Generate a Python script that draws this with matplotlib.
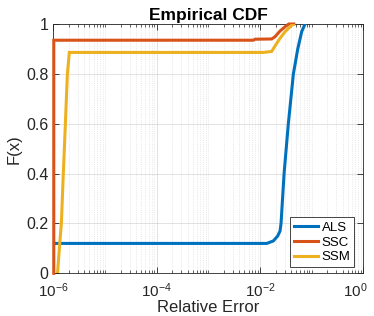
import numpy as np
import matplotlib
matplotlib.use("Agg")
import matplotlib.pyplot as plt
import matplotlib.transforms as mtransforms
from matplotlib.ticker import LogLocator, FormatStrFormatter, NullFormatter

plt.rcParams["font.family"] = ["Liberation Sans", "DejaVu Sans"]

# empirical CDF curves (x = relative error, y = F(x))
als_x = [1e-6, 0.0135, 0.0181, 0.0220, 0.0244, 0.0255, 0.0292, 0.0353, 0.0442, 0.0537, 0.0641, 0.0743]
als_y = [0.12, 0.12, 0.13, 0.15, 0.17, 0.20, 0.40, 0.60, 0.80, 0.90, 0.97, 1.00]

ssc_x = [1.02e-6, 1.02e-6, 0.0074, 0.0080, 0.0168, 0.0195, 0.0244, 0.0305, 0.0360, 0.0450]
ssc_y = [0.0, 0.935, 0.935, 0.939, 0.940, 0.949, 0.972, 0.989, 1.0, 1.0]

ssm_x = [1.206e-6, 1.33e-6, 1.43e-6, 1.56e-6, 1.71e-6, 1.87e-6, 2.04e-6, 0.0115, 0.0168, 0.0195, 0.0244, 0.0305, 0.0381, 0.0442]
ssm_y = [0.0, 0.12, 0.20, 0.40, 0.60, 0.80, 0.886, 0.886, 0.890, 0.912, 0.943, 0.969, 0.989, 1.0]

series = [("ALS", als_x, als_y, "#0072BD"),
          ("SSC", ssc_x, ssc_y, "#D95319"),
          ("SSM", ssm_x, ssm_y, "#EDB120")]

fig = plt.figure(figsize=(3.74, 3.16), dpi=100)
ax = fig.add_axes([0.1426, 0.135, 0.829, 0.789])

for name, x, y, c in series:
    ax.plot(x, y, color=c, lw=2.2, label=name, solid_joinstyle="miter",
            clip_on=(name != "SSC"), zorder=3)

ax.set_xscale("log")
ax.set_xlim(1e-6, 1)
ax.set_ylim(0, 1)
ax.set_xticks([1e-6, 1e-4, 1e-2, 1])
ax.xaxis.set_minor_locator(LogLocator(base=10, subs=np.arange(1, 10), numticks=20))
ax.xaxis.set_minor_formatter(NullFormatter())
ax.set_yticks([0, 0.2, 0.4, 0.6, 0.8, 1])
ax.yaxis.set_major_formatter(FormatStrFormatter("%g"))

ax.grid(True, which="major", color="#262626", alpha=0.15, lw=0.6)
ax.grid(True, which="minor", axis="x", color="#262626", alpha=0.18, lw=0.5, ls=":")

ax.tick_params(which="both", direction="in", top=True, right=True, colors="#262626", labelsize=11.5)
ax.tick_params(which="major", length=4, width=0.6)
ax.tick_params(which="minor", length=2, width=0.5)
ax.tick_params(axis="x", which="major", pad=6, labelsize=11)
for s in ax.spines.values():
    s.set_color("#262626")
    s.set_linewidth(0.6)

# keep the last x label inside the figure, like the original
fig.canvas.draw()
last = ax.get_xticklabels()[-1]
last.set_transform(last.get_transform() + mtransforms.ScaledTranslation(-8 / 100, 0, fig.dpi_scale_trans))

ax.set_xlabel("Relative Error", fontsize=12, color="#262626", labelpad=0)
ax.set_ylabel("F(x)", fontsize=12, color="#262626", labelpad=3)
ax.set_title("Empirical CDF", fontsize=12.5, fontweight="bold", pad=3)

leg = ax.legend(loc="lower right", bbox_to_anchor=(0.971, 0.024), fontsize=9.5, fancybox=False,
                edgecolor="#262626", framealpha=1, handlelength=1.8, borderaxespad=0,
                borderpad=0.3, labelspacing=0.2, handletextpad=0.3)
leg.get_frame().set_linewidth(0.6)
leg.set_zorder(5)

fig.savefig("out.png", dpi=100)
